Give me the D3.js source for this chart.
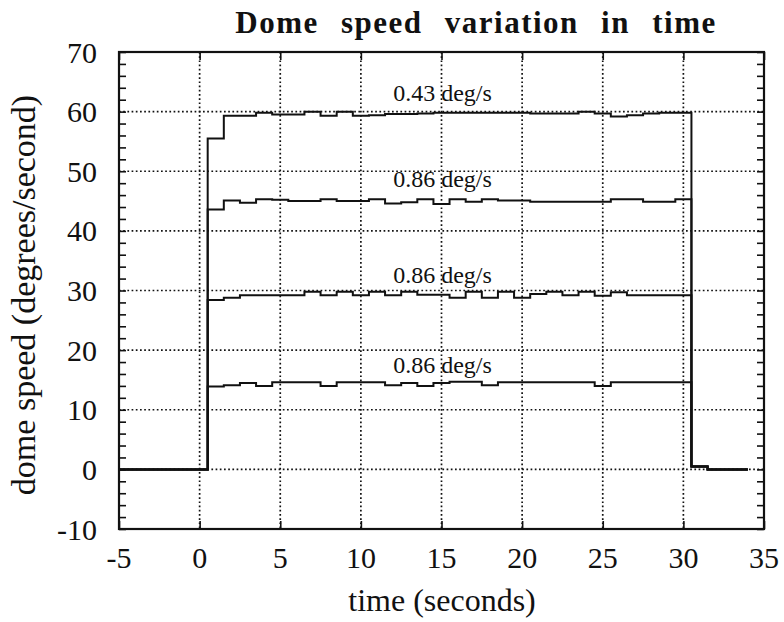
<!DOCTYPE html>
<html lang="en">
<head>
    <meta charset="UTF-8">
    <title>Dome speed variation in time</title>
    <script src="https://d3js.org/d3.v7.min.js"></script>
    <style>
        body { margin: 0; background: #fff; }
        text { font-family: "Liberation Serif", "Times New Roman", serif; fill: #111; }
    </style>
</head>
<body>
<div id="fig"></div>
<script>
    // step start times (s); each value holds until the next time
    let stepTimes = [0.5, 1.5, 2.5, 3.5, 4.5, 5.5, 6.5, 7.5, 8.5, 9.5, 10.5, 11.5, 12.5, 13.5, 14.5,
        15.5, 16.5, 17.5, 18.5, 19.5, 20.5, 21.5, 22.5, 23.5, 24.5, 25.5, 26.5, 27.5, 28.5, 29.5]

    let speed043 = [55.5, 59.3, 59.3, 59.8, 59.5, 59.5, 60.0, 59.3, 60.0, 59.3, 59.4, 59.6, 59.6, 59.7, 59.8,
        59.8, 59.8, 59.8, 59.8, 59.8, 59.7, 59.7, 59.7, 60.0, 59.7, 59.2, 59.4, 59.7, 59.8, 59.8]
    let speed086a = [43.6, 45.1, 44.7, 45.3, 45.2, 45.0, 45.0, 45.3, 45.0, 45.0, 45.3, 44.6, 44.8, 45.3, 44.5,
        45.3, 44.9, 45.3, 45.1, 45.1, 44.9, 44.9, 44.9, 44.9, 44.9, 45.3, 45.3, 44.9, 44.9, 45.3]
    let speed086b = [28.4, 28.8, 29.2, 29.2, 29.2, 29.2, 29.8, 29.2, 29.8, 29.2, 29.8, 29.2, 29.8, 29.3, 29.3,
        28.8, 29.8, 28.8, 29.8, 28.8, 29.4, 29.8, 29.2, 29.8, 29.1, 29.7, 29.2, 29.2, 29.2, 29.2]
    let speed086c = [13.9, 14.1, 14.5, 14.0, 14.6, 14.6, 14.6, 14.0, 14.6, 14.6, 14.6, 14.1, 14.5, 14.0, 14.5,
        14.7, 14.7, 14.1, 14.6, 14.6, 14.6, 14.6, 14.6, 14.6, 14.0, 14.6, 14.6, 14.6, 14.6, 14.6]

    // before start and after stop (same for every run)
    let leadTimes = [-5], leadValues = [0]
    let tailTimes = [30.5, 31.5, 34], tailValues = [0.5, 0, 0]

    let seriesLabels = ["0.43 deg/s", "0.86 deg/s", "0.86 deg/s", "0.86 deg/s"]
    let labelTime = 12
    let labelLevel = [61.7, 47.4, 31.2, 16.1]

    let xTicks = [-5, 0, 5, 10, 15, 20, 25, 30, 35]
    let yTicks = [-10, 0, 10, 20, 30, 40, 50, 60, 70]
    let yMinor = [-8, -6, -4, -2, 2, 4, 6, 8, 12, 14, 16, 18, 22, 24, 26, 28, 32, 34, 36, 38,
        42, 44, 46, 48, 52, 54, 56, 58, 62, 64, 66, 68]

    let W = 784, H = 622
    let pLeft = 119, pRight = 764, pTop = 52, pBottom = 529

    let svg = d3.select("#fig").append("svg").attr("width", W).attr("height", H)

    let x = d3.scaleLinear().domain([-5, 35]).range([pLeft, pRight])
    let y = d3.scaleLinear().domain([-10, 70]).range([pBottom, pTop])

    // dotted grid
    let grid = svg.append("g").attr("stroke", "#111").attr("stroke-width", 1.7)
        .attr("stroke-dasharray", "1.7,2.5")
    grid.selectAll(".gx").data(xTicks.slice(1, -1)).join("line")
        .attr("x1", d => x(d)).attr("x2", d => x(d)).attr("y1", pTop).attr("y2", pBottom)
    grid.selectAll(".gy").data(yTicks.slice(1, -1)).join("line")
        .attr("x1", pLeft).attr("x2", pRight).attr("y1", d => y(d)).attr("y2", d => y(d))

    // axes with inward ticks
    svg.append("g").attr("transform", `translate(0,${pBottom})`)
        .call(d3.axisTop(x).tickValues(xTicks).tickSize(8).tickFormat(""))
    svg.append("g").attr("transform", `translate(0,${pTop})`)
        .call(d3.axisBottom(x).tickValues(xTicks).tickSize(8).tickFormat(""))
    svg.append("g").attr("transform", `translate(${pLeft},0)`)
        .call(d3.axisRight(y).tickValues(yTicks.concat(yMinor)).tickSize(7).tickFormat(""))
    svg.append("g").attr("transform", `translate(${pRight},0)`)
        .call(d3.axisLeft(y).tickValues(yTicks.concat(yMinor)).tickSize(7).tickFormat(""))
    svg.selectAll(".domain").remove()
    svg.selectAll(".tick line").attr("stroke", "#111").attr("stroke-width", 1.6)

    svg.append("rect").attr("x", pLeft).attr("y", pTop)
        .attr("width", pRight - pLeft).attr("height", pBottom - pTop)
        .attr("fill", "none").attr("stroke", "#111").attr("stroke-width", 2.2)

    // tick labels
    svg.selectAll(".xl").data(xTicks).join("text")
        .attr("x", d => x(d)).attr("y", 568).attr("text-anchor", "middle")
        .attr("font-size", 30).text(d => d)
    svg.selectAll(".yl").data(yTicks).join("text")
        .attr("x", 97).attr("y", d => y(d) + 10.5).attr("text-anchor", "end")
        .attr("font-size", 30).text(d => d)

    // step lines
    let line = d3.line().x(d => x(d[0])).y(d => y(d[1])).curve(d3.curveStepAfter)
    let allSeries = [speed043, speed086a, speed086b, speed086c]
    allSeries.forEach(function (vals) {
        let pts = []
        leadTimes.forEach((t, i) => pts.push([t, leadValues[i]]))
        stepTimes.forEach((t, i) => pts.push([t, vals[i]]))
        tailTimes.forEach((t, i) => pts.push([t, tailValues[i]]))
        svg.append("path").datum(pts).attr("d", line)
            .attr("fill", "none").attr("stroke", "#111").attr("stroke-width", 2)
    })

    // annotations
    svg.selectAll(".lab").data(seriesLabels).join("text")
        .attr("x", x(labelTime)).attr("y", (d, i) => y(labelLevel[i]))
        .attr("font-size", 24).text(d => d)

    // titles
    svg.append("text").attr("x", 476).attr("y", 33).attr("text-anchor", "middle")
        .attr("font-size", 31).attr("font-weight", "bold").attr("word-spacing", 13)
        .attr("letter-spacing", 1.5).text("Dome speed variation in time")
    svg.append("text").attr("x", 442).attr("y", 611).attr("text-anchor", "middle")
        .attr("font-size", 32).text("time (seconds)")
    svg.append("text").attr("transform", "translate(35,295) rotate(-90)")
        .attr("text-anchor", "middle").attr("font-size", 34).text("dome speed (degrees/second)")
</script>
</body>
</html>
